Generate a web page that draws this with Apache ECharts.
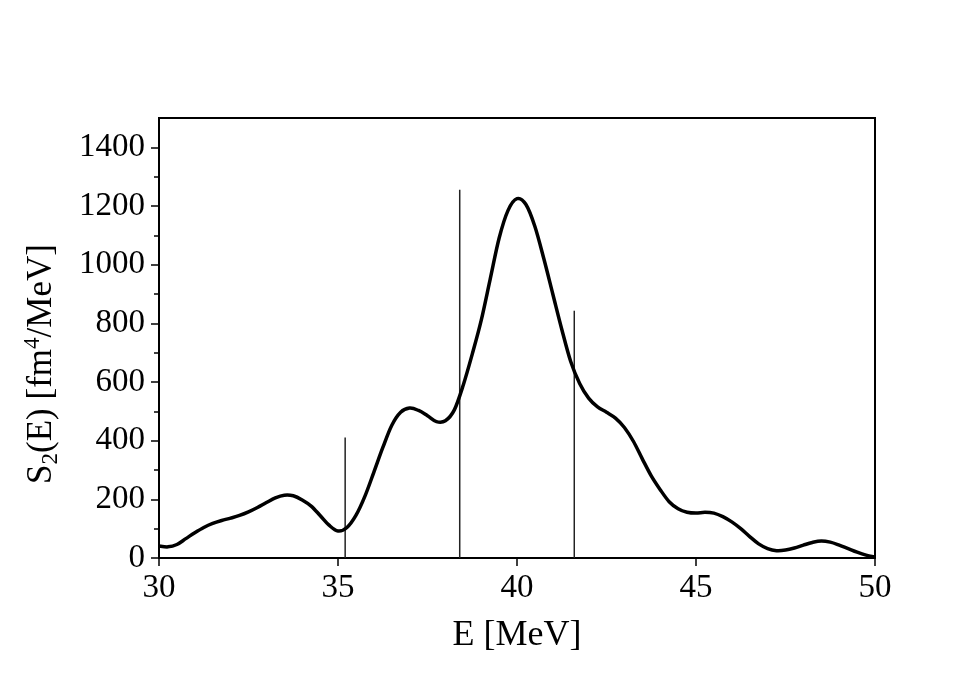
<!DOCTYPE html>
<html><head><meta charset="utf-8">
<script src="https://cdn.jsdelivr.net/npm/echarts@6/dist/echarts.min.js"></script>
<style>html,body{margin:0;padding:0;background:#fff}#c{width:977px;height:694px}</style>
</head><body><div id="c"></div>
<script>
const energies = [30.0,30.25,30.5,30.75,31.0,31.25,31.5,31.75,32.0,32.25,32.5,32.75,33.0,33.25,33.5,33.75,34.0,34.25,34.5,34.75,
  35.0,35.25,35.5,35.75,36.0,36.25,36.5,36.75,37.0,37.25,37.5,37.75,38.0,38.25,38.5,38.75,39.0,39.25,39.5,39.75,
  40.0,40.25,40.5,40.75,41.0,41.25,41.5,41.75,42.0,42.25,42.5,42.75,43.0,43.25,43.5,43.75,44.0,44.25,44.5,44.75,
  45.0,45.25,45.5,45.75,46.0,46.25,46.5,46.75,47.0,47.25,47.5,47.75,48.0,48.25,48.5,48.75,49.0,49.25,49.5,49.75,50.0];
const strength = [41,38,46,66,86,104,118,128,136,145,157,172,189,205,214,212,198,177,145,112,
  92,104,145,210,292,376,452,497,511,503,485,465,468,505,590,695,810,950,1090,1185,
  1225,1205,1130,1020,900,780,670,595,545,515,497,477,445,398,338,280,233,192,168,156,
  153,156,153,141,123,100,73,48,32,25,27,34,44,53,58,54,44,32,20,10,3];
const stickE = [35.2, 38.4, 41.6];
const stickS = [411, 1255, 843];
const xTicks = [30, 35, 40, 45, 50];
const yMajorTicks = [0, 200, 400, 600, 800, 1000, 1200, 1400];
const yMinorTicks = [100, 300, 500, 700, 900, 1100, 1300];

const FONT = 'Liberation Serif';
const chart = echarts.init(document.getElementById('c'));
const curve = energies.map((e, i) => [e, strength[i]]);
const sticks = stickE.map((e, i) => [e, stickS[i]]);

function renderCurve(params, api) {
  if (params.dataIndex !== 0) return null;
  const pts = curve.map(p => api.coord(p));
  const n = pts.length;
  let d = 'M' + pts[0][0] + ' ' + pts[0][1];
  for (let i = 0; i < n - 1; i++) {
    const p0 = pts[Math.max(i - 1, 0)], p1 = pts[i], p2 = pts[i + 1], p3 = pts[Math.min(i + 2, n - 1)];
    const c1x = p1[0] + (p2[0] - p0[0]) / 6, c1y = p1[1] + (p2[1] - p0[1]) / 6;
    const c2x = p2[0] - (p3[0] - p1[0]) / 6, c2y = p2[1] - (p3[1] - p1[1]) / 6;
    d += ' C' + c1x + ' ' + c1y + ' ' + c2x + ' ' + c2y + ' ' + p2[0] + ' ' + p2[1];
  }
  return {
    type: 'path',
    shape: {pathData: d},
    style: {fill: null, stroke: '#000', lineWidth: 3.5, lineJoin: 'round', lineCap: 'round'}
  };
}

chart.setOption({
  animation: false,
  backgroundColor: '#fff',
  grid: {left: 159, right: 102, top: 118, bottom: 136, show: true, borderColor: '#000', borderWidth: 2, backgroundColor: 'transparent'},
  xAxis: {
    type: 'value', min: 30, max: 50, interval: 5,
    name: 'E [MeV]', nameLocation: 'middle', nameGap: 60,
    nameTextStyle: {fontFamily: FONT, fontSize: 36, color: '#000'},
    axisLine: {show: true, lineStyle: {color: '#000', width: 2}},
    axisTick: {show: true, inside: false, length: 8, lineStyle: {color: '#000', width: 1.5}, customValues: xTicks},
    axisLabel: {fontFamily: FONT, fontSize: 33, color: '#000', margin: 14, customValues: xTicks, formatter: v => String(v)},
    splitLine: {show: false}
  },
  yAxis: [{
    type: 'value', min: 0, max: 1500, position: 'left',
    name: '{n|S}{sub|2}{n|(E) [fm}{sup|4}{n|/MeV]}', nameLocation: 'middle', nameGap: 100,
    nameTextStyle: {
      color: '#000', fontFamily: FONT, fontSize: 35, padding: [0, 52, 0, 0],
      rich: {
        n: {fontFamily: FONT, fontSize: 35, color: '#000', lineHeight: 35},
        sub: {fontFamily: FONT, fontSize: 23, color: '#000', lineHeight: 23, padding: [18, 0, 0, 0]},
        sup: {fontFamily: FONT, fontSize: 23, color: '#000', lineHeight: 23, padding: [0, 0, 18, 0]}
      }
    },
    axisLine: {show: true, lineStyle: {color: '#000', width: 2}},
    axisTick: {show: true, inside: false, length: 8, lineStyle: {color: '#000', width: 1.5}, customValues: yMajorTicks},
    axisLabel: {fontFamily: FONT, fontSize: 33, color: '#000', margin: 14, customValues: yMajorTicks, formatter: v => String(v)},
    splitLine: {show: false}
  }, {
    type: 'value', min: 0, max: 1500, position: 'left',
    axisLine: {show: false},
    axisTick: {show: true, inside: false, length: 5, lineStyle: {color: '#000', width: 1.5}, customValues: yMinorTicks},
    axisLabel: {show: false},
    splitLine: {show: false}
  }],
  series: [{
    type: 'bar', data: sticks, barWidth: 1.5, yAxisIndex: 0,
    itemStyle: {color: '#222'}, silent: true
  }, {
    type: 'custom', data: curve, yAxisIndex: 0, renderItem: renderCurve,
    encode: {x: 0, y: 1}, clip: true, z: 3, silent: true
  }]
});
</script></body></html>
